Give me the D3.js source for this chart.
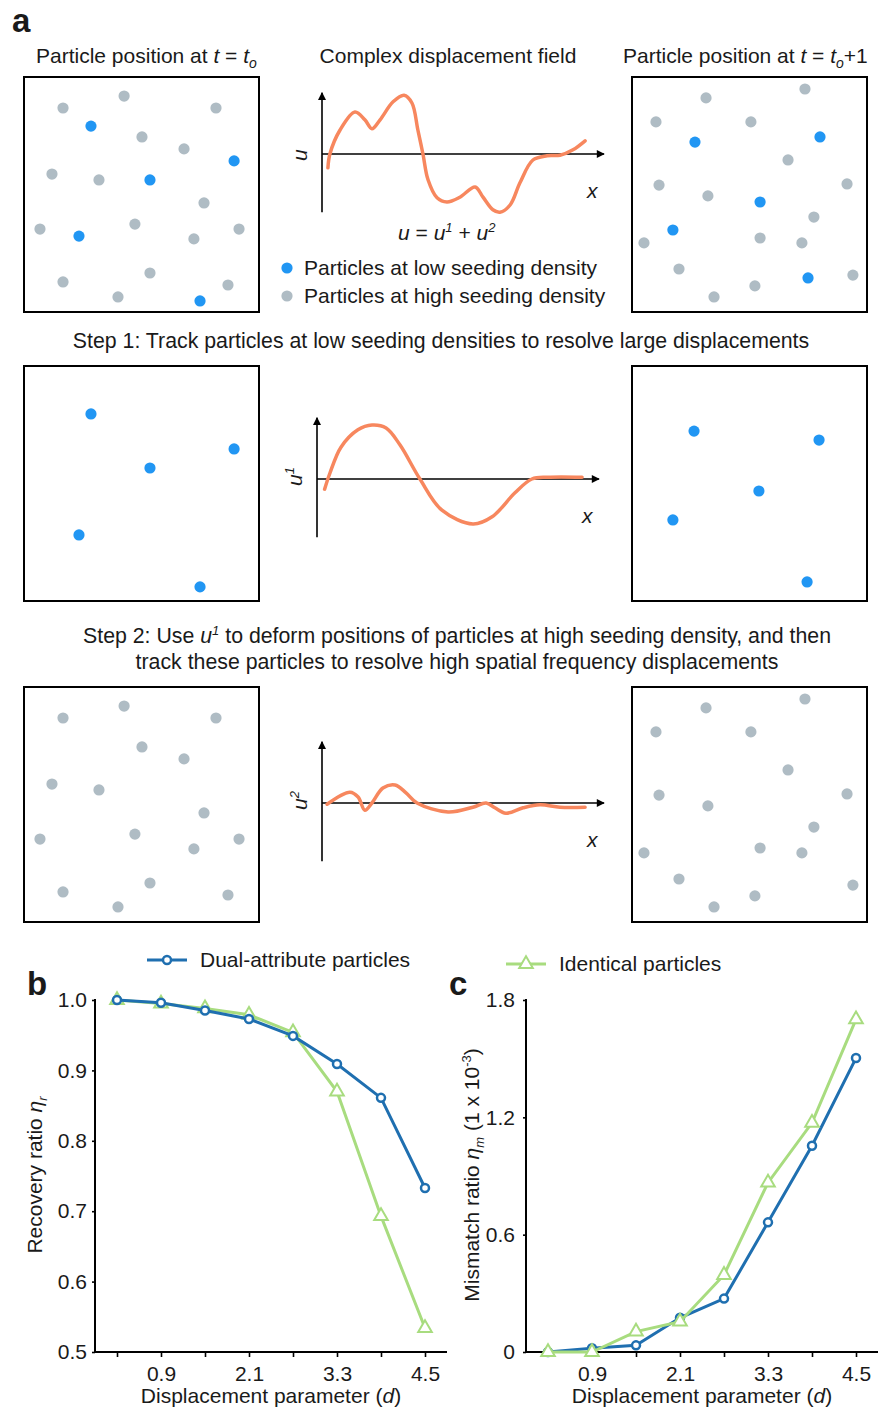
<!DOCTYPE html>
<html>
<head>
<meta charset="utf-8">
<script src="https://cdn.jsdelivr.net/npm/d3@7"></script>
<style>
  body { margin: 0; background: #fff; }
  svg text { font-family: "Liberation Sans", Arial, sans-serif; fill: #1a1a1a; }
</style>
</head>
<body>
<svg id="fig" width="878" height="1407"></svg>
<script>
// particle positions, in % of the box (x, y)
var grayStart = [[16.6,13.2],[42.6,8.1],[81.7,13.2],[50.2,25.5],[68.1,30.6],[11.9,41.3],[31.9,43.8],[76.6,53.6],
                 [6.8,64.7],[47.2,62.6],[72.3,68.9],[91.5,64.7],[16.6,87.2],[53.6,83.4],[40.0,93.6],[86.8,88.5]]
var blueStart = [[28.5,20.9],[89.4,35.7],[53.6,43.8],[23.4,67.7],[74.9,95.3]]
var grayEnd = [[31.5,8.9],[73.6,5.1],[10.2,19.1],[50.6,19.1],[66.4,35.3],[11.5,46.0],[32.3,50.6],[91.5,45.5],
               [77.4,59.6],[5.1,70.6],[54.5,68.5],[72.3,70.6],[20.0,81.7],[52.3,88.9],[34.9,93.6],[94.0,84.3]]
var blueEnd = [[26.8,27.7],[80.0,25.5],[54.5,53.2],[17.4,65.1],[74.9,85.5]]
var blueStep1Start = [[28.5,20.4],[89.4,35.3],[53.6,43.4],[23.4,71.9],[74.9,94.0]]
var blueStep1End = [[26.4,27.7],[79.6,31.5],[54.0,53.2],[17.4,65.5],[74.5,91.9]]

// displacement fields, x in 0..10, u in -1..1
var fieldU = [[0.21,-0.23],[0.28,0],[0.64,0.40],[1.17,0.70],[1.52,0.57],[1.77,0.42],[2.06,0.57],[2.52,0.87],
              [2.91,0.98],[3.19,0.85],[3.40,0.40],[3.58,0],[3.76,-0.43],[4.08,-0.73],[4.43,-0.80],[4.89,-0.72],
              [5.43,-0.55],[5.71,-0.72],[6.06,-0.93],[6.31,-0.97],[6.67,-0.85],[7.02,-0.48],[7.48,-0.10],
              [7.98,-0.03],[8.44,-0.02],[8.90,0.07],[9.33,0.22]]
var fieldU1 = [[0.27,-0.17],[0.46,0.10],[0.85,0.53],[1.45,0.82],[1.95,0.90],[2.45,0.85],[2.94,0.57],[3.65,0],
               [4.43,-0.52],[5.53,-0.75],[6.21,-0.63],[7.02,-0.23],[7.62,0],[8.19,0.03],[9.40,0.03]]
var fieldU2 = [[0.18,-0.02],[0.99,0.18],[1.28,0.10],[1.52,-0.12],[1.77,0],[2.16,0.25],[2.59,0.30],[2.98,0.17],
               [3.37,0],[4.47,-0.15],[5.35,-0.07],[5.82,0],[6.13,-0.08],[6.52,-0.17],[7.13,-0.08],[7.73,-0.03],
               [8.44,-0.07],[9.33,-0.07]]

// panels b and c
var dValues = [0.3, 0.9, 1.5, 2.1, 2.7, 3.3, 3.9, 4.5]
var dLabels = [0.9, 2.1, 3.3, 4.5]
var recoveryDual = [1.000, 0.996, 0.985, 0.973, 0.949, 0.909, 0.861, 0.733]
var recoveryIdent = [1.000, 0.995, 0.988, 0.979, 0.954, 0.870, 0.693, 0.534]
var mismatchDual = [0, 0.019, 0.034, 0.175, 0.273, 0.663, 1.055, 1.503]
var mismatchIdent = [0, 0, 0.104, 0.155, 0.394, 0.866, 1.172, 1.701]
var recoveryTicks = [0.5, 0.6, 0.7, 0.8, 0.9, 1.0]
var mismatchTicks = [0, 0.6, 1.2, 1.8]

var blue = '#2196f3', gray = '#afbcc4', orange = '#f7875e'
var lineBlue = '#1f6fb0', lineGreen = '#a8dc7f'
var box = 235

var svg = d3.select('#fig')

svg.append('defs').append('marker')
    .attr('id', 'arrow')
    .attr('viewBox', '0 0 10 10')
    .attr('refX', 9).attr('refY', 5)
    .attr('markerUnits', 'userSpaceOnUse')
    .attr('markerWidth', 9).attr('markerHeight', 8)
    .attr('orient', 'auto')
    .append('path').attr('d', 'M0,0 L10,5 L0,10 z').attr('fill', '#000')

// helper for text with italic / sub / superscript pieces
function richText(sel, parts) {
    parts.forEach(function (p) {
        var t = sel.append('tspan').text(p.t)
        if (p.i) t.style('font-style', 'italic')
        if (p.fs) t.style('font-size', p.fs + 'px')
        if (p.dy) t.attr('dy', p.dy)
    })
    return sel
}

// panel letters
svg.append('text').attr('x', 12).attr('y', 32).style('font-size', '33px').style('font-weight', 'bold').text('a')
svg.append('text').attr('x', 27).attr('y', 995).style('font-size', '33px').style('font-weight', 'bold').text('b')
svg.append('text').attr('x', 449).attr('y', 995).style('font-size', '33px').style('font-weight', 'bold').text('c')

function particleBox(x0, y0, grays, blues) {
    var sx = d3.scaleLinear().domain([0, 100]).range([x0, x0 + box])
    var sy = d3.scaleLinear().domain([0, 100]).range([y0, y0 + box])
    var g = svg.append('g')
    g.append('rect')
        .attr('x', x0).attr('y', y0)
        .attr('width', box).attr('height', box)
        .attr('fill', 'none').attr('stroke', '#000').attr('stroke-width', 2)
    g.selectAll('circle.gray').data(grays).enter().append('circle')
        .attr('class', 'gray')
        .attr('cx', function (d) { return sx(d[0]) })
        .attr('cy', function (d) { return sy(d[1]) })
        .attr('r', 5.6).attr('fill', gray)
    g.selectAll('circle.blue').data(blues).enter().append('circle')
        .attr('class', 'blue')
        .attr('cx', function (d) { return sx(d[0]) })
        .attr('cy', function (d) { return sy(d[1]) })
        .attr('r', 5.6).attr('fill', blue)
}

function fieldPlot(ox, oy, pts, sup) {
    var x = d3.scaleLinear().domain([0, 10]).range([ox, ox + 282])
    var y = d3.scaleLinear().domain([-1, 1]).range([oy + 60, oy - 60])
    var g = svg.append('g')
    g.append('line')
        .attr('x1', x(0)).attr('y1', y(-0.97)).attr('x2', x(0)).attr('y2', y(1.02))
        .attr('stroke', '#000').attr('stroke-width', 1.6).attr('marker-end', 'url(#arrow)')
    g.append('line')
        .attr('x1', x(0)).attr('y1', y(0)).attr('x2', x(10)).attr('y2', y(0))
        .attr('stroke', '#000').attr('stroke-width', 1.6).attr('marker-end', 'url(#arrow)')
    var line = d3.line()
        .x(function (d) { return x(d[0]) })
        .y(function (d) { return y(d[1]) })
        .curve(d3.curveCatmullRom.alpha(0.5))
    g.append('path').datum(pts)
        .attr('d', line)
        .attr('fill', 'none').attr('stroke', orange).attr('stroke-width', 3.5)
        .attr('stroke-linecap', 'round')
    var parts = [{ t: 'u', i: true }]
    if (sup) parts.push({ t: sup, i: true, fs: 13, dy: -8 })
    richText(g.append('text')
        .attr('transform', 'translate(' + (x(0) - 15) + ',' + (y(0) + 7) + ') rotate(-90)')
        .style('font-size', '21px'), parts)
    g.append('text')
        .attr('x', x(9.4)).attr('y', y(0) + 44)
        .style('font-size', '21px').style('font-style', 'italic').text('x')
}

// row 1
richText(svg.append('text').attr('x', 36).attr('y', 63).style('font-size', '21px'),
    [{ t: 'Particle position at ' }, { t: 't', i: true }, { t: ' = ' }, { t: 't', i: true },
     { t: 'o', i: true, fs: 14, dy: 5 }])
svg.append('text').attr('x', 448).attr('y', 63).attr('text-anchor', 'middle')
    .style('font-size', '21px').text('Complex displacement field')
richText(svg.append('text').attr('x', 623).attr('y', 63).style('font-size', '21px'),
    [{ t: 'Particle position at ' }, { t: 't', i: true }, { t: ' = ' }, { t: 't', i: true },
     { t: 'o', i: true, fs: 14, dy: 5 }, { t: '+1', dy: -5 }])

particleBox(24, 77, grayStart, blueStart)
particleBox(632, 77, grayEnd, blueEnd)
fieldPlot(322, 154, fieldU, null)

richText(svg.append('text').attr('x', 398).attr('y', 240).style('font-size', '21px'),
    [{ t: 'u', i: true }, { t: ' = ' }, { t: 'u', i: true }, { t: '1', i: true, fs: 13, dy: -8 },
     { t: ' + ', dy: 8 }, { t: 'u', i: true }, { t: '2', i: true, fs: 13, dy: -8 }])

var legendA = [{ c: blue, t: 'Particles at low seeding density' }, { c: gray, t: 'Particles at high seeding density' }]
var lg = svg.selectAll('g.lega').data(legendA).enter().append('g')
    .attr('class', 'lega')
    .attr('transform', function (d, i) { return 'translate(287,' + (268 + i * 28) + ')' })
lg.append('circle').attr('r', 5.6).attr('fill', function (d) { return d.c })
lg.append('text').attr('x', 17).attr('dy', '0.35em').style('font-size', '21px').text(function (d) { return d.t })

// row 2
svg.append('text').attr('x', 441).attr('y', 348).attr('text-anchor', 'middle').style('font-size', '21.3px')
    .text('Step 1: Track particles at low seeding densities to resolve large displacements')
particleBox(24, 366, [], blueStep1Start)
particleBox(632, 366, [], blueStep1End)
fieldPlot(317, 479, fieldU1, '1')

// row 3
richText(svg.append('text').attr('x', 457).attr('y', 643).attr('text-anchor', 'middle').style('font-size', '21.3px'),
    [{ t: 'Step 2: Use ' }, { t: 'u', i: true }, { t: '1', i: true, fs: 13, dy: -8 },
     { t: ' to deform positions of particles at high seeding density, and then', dy: 8 }])
svg.append('text').attr('x', 457).attr('y', 669).attr('text-anchor', 'middle').style('font-size', '21.3px')
    .text('track these particles to resolve high spatial frequency displacements')
particleBox(24, 687, grayStart, [])
particleBox(632, 687, grayEnd, [])
fieldPlot(322, 803, fieldU2, '2')

// line charts b and c
function lineChart(o) {
    var x = d3.scaleLinear().domain([0, 4.8]).range([o.left, o.left + 352])
    var y = d3.scaleLinear().domain(o.ydom).range([1352, 1000])
    var g = svg.append('g')

    var xAxis = d3.axisBottom(x).tickValues(dValues).tickSize(5).tickPadding(9)
        .tickFormat(function (d) { return dLabels.indexOf(d) >= 0 ? d3.format('.1f')(d) : '' })
    var gx = g.append('g').attr('transform', 'translate(0,1352)').call(xAxis)
    var yAxis = d3.axisLeft(y).tickValues(o.yticks).tickSize(3).tickPadding(o.ypad)
        .tickFormat(o.yfmt)
    var gy = g.append('g').attr('transform', 'translate(' + o.left + ',0)').call(yAxis)
    ;[gx, gy].forEach(function (a) {
        a.select('.domain').attr('stroke-width', 2).attr('stroke', '#000')
        a.selectAll('.tick line').attr('stroke-width', 1.6)
        a.selectAll('.tick text').style('font-size', '21px').attr('fill', '#1a1a1a')
            .style('font-family', '"Liberation Sans", Arial, sans-serif')
    })
    gx.select('.domain').attr('d', 'M' + (o.left - 1) + ',0H' + (o.left + 352))
    gy.select('.domain').attr('d', 'M0,1353V999')

    var line = d3.line()
        .x(function (d, i) { return x(dValues[i]) })
        .y(function (d) { return y(d) })

    function drawSeries(vals, col, shape) {
        g.append('path').datum(vals).attr('d', line)
            .attr('fill', 'none').attr('stroke', col).attr('stroke-width', 3)
        var m = g.selectAll(null).data(vals).enter()
        if (shape === 'circle') {
            m.append('circle')
                .attr('cx', function (d, i) { return x(dValues[i]) })
                .attr('cy', function (d) { return y(d) })
                .attr('r', 4).attr('fill', '#fff').attr('stroke', col).attr('stroke-width', 2.5)
        } else {
            m.append('path')
                .attr('d', d3.symbol(d3.symbolTriangle, 80))
                .attr('transform', function (d, i) { return 'translate(' + x(dValues[i]) + ',' + y(d) + ')' })
                .attr('fill', '#fff').attr('stroke', col).attr('stroke-width', 2)
        }
    }
    o.series.forEach(function (s) { drawSeries(s.v, s.c, s.m) })

    richText(g.append('text').attr('x', o.left + 176).attr('y', 1403).attr('text-anchor', 'middle')
        .style('font-size', '21px'),
        [{ t: 'Displacement parameter (' }, { t: 'd', i: true }, { t: ')' }])
    richText(g.append('text')
        .attr('transform', 'translate(' + o.ylabx + ',1175) rotate(-90)')
        .attr('text-anchor', 'middle').style('font-size', '21px'), o.ylabel)

    // legend entry
    var lgx = o.legend.x, lgy = o.legend.y
    g.append('line').attr('x1', lgx).attr('x2', lgx + 40).attr('y1', lgy).attr('y2', lgy)
        .attr('stroke', o.legend.c).attr('stroke-width', 3)
    if (o.legend.m === 'circle') {
        g.append('circle').attr('cx', lgx + 20).attr('cy', lgy).attr('r', 4)
            .attr('fill', '#fff').attr('stroke', o.legend.c).attr('stroke-width', 2.5)
    } else {
        g.append('path').attr('d', d3.symbol(d3.symbolTriangle, 80))
            .attr('transform', 'translate(' + (lgx + 20) + ',' + lgy + ')')
            .attr('fill', '#fff').attr('stroke', o.legend.c).attr('stroke-width', 2)
    }
    g.append('text').attr('x', lgx + 53).attr('y', lgy).attr('dy', '0.35em')
        .style('font-size', '21px').text(o.legend.t)
}

lineChart({
    left: 95, ydom: [0.5, 1.0], yticks: recoveryTicks, ypad: 5,
    yfmt: d3.format('.1f'), ylabx: 42,
    ylabel: [{ t: 'Recovery ratio ' }, { t: 'η', i: true }, { t: 'r', i: true, fs: 13, dy: 5 }],
    series: [{ v: recoveryIdent, c: lineGreen, m: 'tri' }, { v: recoveryDual, c: lineBlue, m: 'circle' }],
    legend: { x: 147, y: 960, c: lineBlue, m: 'circle', t: 'Dual-attribute particles' }
})

lineChart({
    left: 526, ydom: [0, 1.8], yticks: mismatchTicks, ypad: 8,
    yfmt: function (d) { return d === 0 ? '0' : d3.format('.1f')(d) }, ylabx: 479,
    ylabel: [{ t: 'Mismatch ratio ' }, { t: 'η', i: true }, { t: 'm', i: true, fs: 13, dy: 5 },
             { t: ' (1 x 10', dy: -5 }, { t: '-3', fs: 13, dy: -8 }, { t: ')', dy: 8 }],
    series: [{ v: mismatchDual, c: lineBlue, m: 'circle' }, { v: mismatchIdent, c: lineGreen, m: 'tri' }],
    legend: { x: 506, y: 964, c: lineGreen, m: 'tri', t: 'Identical particles' }
})
</script>
</body>
</html>
